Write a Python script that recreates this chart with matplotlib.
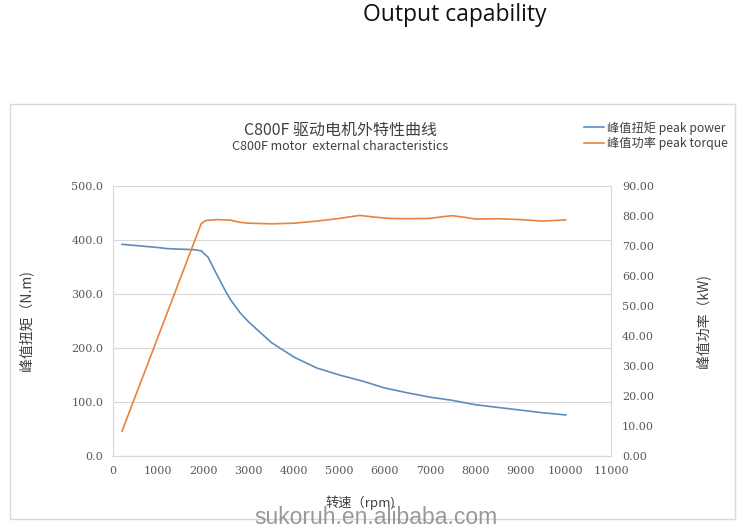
import matplotlib
matplotlib.use("Agg")
import matplotlib.pyplot as plt
from matplotlib.patches import Rectangle
from matplotlib.ticker import MultipleLocator, FormatStrFormatter

plt.rcParams['font.family'] = ['Noto Sans CJK SC', 'DejaVu Sans']

# data
torque_rpm = [200, 600, 1000, 1200, 1500, 1800, 1950, 2100, 2300, 2500, 2600,
              2800, 3000, 3500, 4000, 4500, 5000, 5500, 6000, 6500, 7000,
              7500, 8000, 8500, 9000, 9500, 10000]
torque_nm = [392, 389, 386, 384, 383, 382, 380, 368, 335, 303, 289,
             266, 248, 210, 183, 163, 150, 139, 126, 117, 109,
             103, 95, 90, 85, 80, 76]

power_rpm = [200, 1950, 2050, 2300, 2600, 2800, 3000, 3500, 4000, 4500, 5000,
             5450, 5800, 6100, 6500, 7000, 7300, 7500, 7800, 8000, 8500,
             9000, 9500, 10000]
power_kw = [8.3, 77.5, 78.5, 78.8, 78.6, 77.9, 77.6, 77.4, 77.6, 78.3, 79.2,
            80.2, 79.6, 79.2, 79.1, 79.2, 79.8, 80.1, 79.5, 79.0, 79.1,
            78.8, 78.3, 78.7]

blue = '#5B8DBF'
orange = '#E8823C'
grey = '#595959'
light = '#d9d9d9'

fig = plt.figure(figsize=(7.5, 5.29), dpi=100)
fig.patch.set_facecolor('white')

# chart frame
fig.patches.append(Rectangle((10 / 750, 1 - 519 / 529), 725 / 750, 415 / 529,
                             transform=fig.transFigure, fill=False,
                             edgecolor=light, linewidth=1))

ax = fig.add_axes([113 / 750, 1 - 456 / 529, 498 / 750, 270 / 529])
ax2 = ax.twinx()

l1, = ax.plot(torque_rpm, torque_nm, color=blue, linewidth=1.2)
l2, = ax2.plot(power_rpm, power_kw, color=orange, linewidth=1.2)

ax.set_xlim(0, 11000)
ax.set_ylim(0, 500)
ax2.set_ylim(0, 90)
ax.xaxis.set_major_locator(MultipleLocator(1000))
ax.yaxis.set_major_locator(MultipleLocator(100))
ax2.yaxis.set_major_locator(MultipleLocator(10))
ax.yaxis.set_major_formatter(FormatStrFormatter('%.1f'))
ax2.yaxis.set_major_formatter(FormatStrFormatter('%.2f'))

ax.grid(axis='y', color=light, linewidth=0.8)
ax.set_axisbelow(True)

for a in (ax, ax2):
    for s in a.spines.values():
        s.set_color(light)
    a.spines['top'].set_visible(False)
ax.tick_params(length=0, colors=grey, labelsize=8)
ax2.tick_params(length=0, colors=grey, labelsize=8, pad=8)
ax.tick_params(axis='y', pad=7)
ax.tick_params(axis='x', pad=7)
for lab in ax.get_xticklabels() + ax.get_yticklabels() + ax2.get_yticklabels():
    lab.set_family('DejaVu Serif')

ax.set_ylabel('峰值扭矩（N.m)', fontsize=10, color='#404040')
ax.yaxis.set_label_coords(-0.16, 0.5)
ax2.set_ylabel('峰值功率（kW)', fontsize=10, color='#404040')
ax2.yaxis.set_label_coords(1.169, 0.5)
ax.set_xlabel('转速（rpm)', fontsize=9.5, color='#404040')
ax.xaxis.set_label_coords(0.496, -0.145)

fig.text(455 / 750, 1 - 15 / 529, 'Output capability', fontsize=16.5,
         family='Open Sans', ha='center', va='center', color='#111111')
fig.text(340 / 750, 1 - 130 / 529, 'C800F 驱动电机外特性曲线', fontsize=11.5,
         ha='center', va='center', color='#404040')
fig.text(340 / 750, 1 - 147 / 529, 'C800F motor  external characteristics',
         fontsize=9, ha='center', va='center', color='#404040')

fig.legend([l1, l2], ['峰值扭矩 peak power', '峰值功率 peak torque'],
           loc='upper left', bbox_to_anchor=(584 / 750, 1 - 121 / 529),
           frameon=False, fontsize=8.8, handlelength=1.6, handletextpad=0.3,
           labelspacing=0.2, borderaxespad=0, borderpad=0,
           labelcolor='#404040')

fig.text(376 / 750, 1 - 517 / 529, 'sukoruh.en.alibaba.com', fontsize=16.5,
         family='Liberation Sans', ha='center', va='center',
         color='#808080', alpha=0.8)

fig.savefig('out.png', dpi=100)
